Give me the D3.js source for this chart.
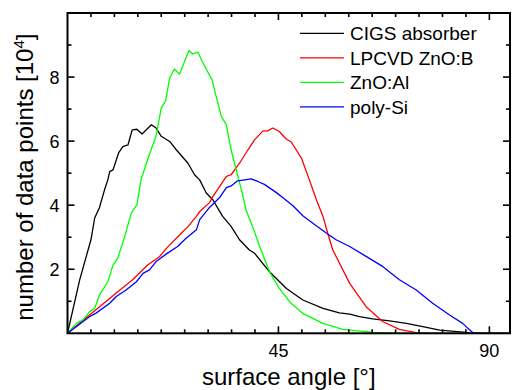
<!DOCTYPE html>
<html>
<head>
<meta charset="utf-8">
<script src="https://cdn.jsdelivr.net/npm/d3@7"></script>
<style>
  body { margin: 0; background: #fff; }
  svg { display: block; font-family: "Liberation Sans", Arial, sans-serif; }
</style>
</head>
<body>
<svg width="512" height="390"></svg>
<script>
// values: angle in degrees, counts in units of 10^4
const cigsAngle = [0, 2.6, 5.0, 5.8, 6.8, 7.9, 8.6, 9.0, 9.7, 10.9, 11.8, 12.9, 13.8, 14.8, 15.9, 17.9, 18.9, 20.0, 21.8, 23.2, 25.7, 27.1, 28.2, 29.6, 31.0, 33.1, 34.9, 36.7, 38.8, 39.9, 43.1, 46.7, 50.2, 54.5, 58.0, 60.2, 62.3, 65.1, 68.7, 72.3, 75.8, 79.4, 85.1, 86.4, 94.4];
const cigsCount = [0, 1.67, 2.92, 3.6, 3.92, 4.48, 4.79, 5.05, 5.1, 5.63, 5.83, 5.88, 6.35, 6.37, 6.22, 6.51, 6.41, 6.15, 5.99, 5.73, 5.31, 4.95, 4.79, 4.38, 4.17, 3.65, 3.34, 2.92, 2.6, 2.5, 1.92, 1.4, 1.04, 0.78, 0.64, 0.6, 0.52, 0.45, 0.39, 0.31, 0.21, 0.1, 0.03, 0, 0];

const lpcvdAngle = [0, 4.7, 9.0, 10.7, 13.9, 17.1, 19.6, 21.1, 23.9, 25.7, 27.5, 28.2, 30.3, 31.0, 33.9, 34.9, 36.7, 38.5, 39.9, 41.7, 42.7, 43.8, 45.2, 46.7, 47.7, 49.9, 51.6, 53.1, 54.5, 55.5, 56.6, 57.3, 60.2, 63.7, 67.3, 70.8, 74.4, 77.9, 94.4];
const lpcvdCount = [0, 0.57, 1.09, 1.3, 1.67, 2.13, 2.39, 2.65, 3.07, 3.33, 3.65, 3.8, 4.08, 4.27, 4.9, 4.95, 5.31, 5.73, 6.04, 6.32, 6.32, 6.41, 6.3, 6.06, 5.98, 5.47, 4.79, 4.17, 3.65, 3.13, 2.6, 2.4, 1.56, 0.83, 0.36, 0.12, 0.02, 0, 0];

const znoAngle = [0, 1.9, 3.3, 4.7, 5.8, 6.8, 8.6, 9.7, 10.7, 12.2, 13.6, 14.8, 15.7, 17.5, 18.9, 20.0, 20.9, 21.8, 22.8, 23.9, 25.9, 26.7, 27.8, 28.9, 30.8, 32.8, 33.9, 34.9, 36.0, 37.1, 38.1, 39.5, 41.0, 43.1, 45.2, 47.4, 50.2, 54.5, 58.7, 65.2, 72.1, 94.4];
const znoCount = [0, 0.31, 0.42, 0.67, 0.78, 1.19, 1.61, 2.13, 2.34, 3.02, 3.75, 4.01, 4.8, 5.6, 6.16, 7.04, 7.25, 7.97, 8.25, 8.09, 8.83, 8.72, 8.78, 8.44, 7.92, 6.77, 6.51, 5.73, 5.1, 4.48, 3.85, 3.33, 2.71, 1.92, 1.4, 0.98, 0.62, 0.31, 0.125, 0.03, 0, 0];

const polyAngle = [0, 4.7, 6.1, 9.0, 10.4, 12.5, 14.7, 16.1, 17.5, 18.9, 21.1, 23.5, 25.3, 27.5, 28.2, 30.3, 32.4, 33.9, 34.9, 36.3, 37.8, 39.2, 40.6, 42.0, 44.5, 46.3, 48.1, 50.2, 52.7, 55.2, 57.3, 60.2, 63.7, 67.3, 70.8, 74.4, 77.9, 81.5, 84.3, 85.1, 86.5, 88.6, 94.4];
const polyCount = [0, 0.52, 0.63, 0.94, 1.15, 1.35, 1.61, 1.87, 1.98, 2.24, 2.48, 2.71, 2.97, 3.23, 3.55, 3.93, 4.23, 4.55, 4.6, 4.76, 4.79, 4.82, 4.74, 4.65, 4.4, 4.19, 3.98, 3.67, 3.4, 3.13, 2.92, 2.71, 2.4, 2.08, 1.67, 1.35, 0.94, 0.57, 0.31, 0.2, 0.02, 0, 0];

const seriesNames = ["CIGS absorber", "LPCVD ZnO:B", "ZnO:Al", "poly-Si"];
const seriesColors = ["#000000", "#ff0000", "#00ff00", "#0000ff"];
const xTickLabels = [45, 90];
const yTickLabels = [2, 4, 6, 8];

const series = [
  { name: seriesNames[0], color: seriesColors[0], pts: d3.zip(cigsAngle, cigsCount) },
  { name: seriesNames[1], color: seriesColors[1], pts: d3.zip(lpcvdAngle, lpcvdCount) },
  { name: seriesNames[2], color: seriesColors[2], pts: d3.zip(znoAngle, znoCount) },
  { name: seriesNames[3], color: seriesColors[3], pts: d3.zip(polyAngle, polyCount) }
];

const plotL = 67.5, plotR = 510, plotT = 13, plotB = 333.3;
const x = d3.scaleLinear().domain([0, 94.4]).range([plotL, plotR]);
const y = d3.scaleLinear().domain([0, 10]).range([plotB, plotT]);

const svg = d3.select("svg");

svg.append("clipPath").attr("id", "plot")
  .append("rect")
  .attr("x", plotL).attr("y", plotT)
  .attr("width", plotR - plotL).attr("height", plotB - plotT);

const line = d3.line()
  .x(d => x(d[0]))
  .y(d => y(d[1]));

svg.append("g")
  .attr("clip-path", "url(#plot)")
  .selectAll("path")
  .data(series)
  .enter()
  .append("path")
  .attr("d", d => line(d.pts))
  .attr("fill", "none")
  .attr("stroke", d => d.color)
  .attr("stroke-width", 1.3)
  .attr("stroke-linejoin", "round");

// ticks on all four sides, pointing inward
const xMinor = d3.range(5, 94, 5);
const yMinor = d3.range(1, 10, 1);
const tickLen = (major) => major ? 7 : 4;

const ticks = svg.append("g").attr("stroke", "#000").attr("stroke-width", 1.6);
xMinor.forEach(v => {
  const len = tickLen(xTickLabels.includes(v));
  ticks.append("line").attr("x1", x(v)).attr("x2", x(v)).attr("y1", plotB).attr("y2", plotB - len);
  ticks.append("line").attr("x1", x(v)).attr("x2", x(v)).attr("y1", plotT).attr("y2", plotT + len);
});
yMinor.forEach(v => {
  const len = tickLen(yTickLabels.includes(v));
  ticks.append("line").attr("y1", y(v)).attr("y2", y(v)).attr("x1", plotL).attr("x2", plotL + len);
  ticks.append("line").attr("y1", y(v)).attr("y2", y(v)).attr("x1", plotR).attr("x2", plotR - len);
});

svg.append("rect")
  .attr("x", plotL).attr("y", plotT)
  .attr("width", plotR - plotL).attr("height", plotB - plotT)
  .attr("fill", "none")
  .attr("stroke", "#000")
  .attr("stroke-width", 2);

// tick labels
svg.append("g").selectAll("text")
  .data(xTickLabels)
  .enter().append("text")
  .attr("x", d => x(d))
  .attr("y", 356.5)
  .attr("text-anchor", "middle")
  .attr("font-size", 18)
  .text(d => d);

svg.append("g").selectAll("text")
  .data(yTickLabels)
  .enter().append("text")
  .attr("x", 59.5)
  .attr("y", d => y(d) + 6.5)
  .attr("text-anchor", "end")
  .attr("font-size", 18)
  .text(d => d);

// axis titles
svg.append("text")
  .attr("x", (plotL + plotR) / 2)
  .attr("y", 384.5)
  .attr("text-anchor", "middle")
  .attr("font-size", 24)
  .text("surface angle [°]");

const yTitle = svg.append("text")
  .attr("transform", `translate(33,${(plotT + plotB) / 2 + 4}) rotate(-90)`)
  .attr("text-anchor", "middle")
  .attr("font-size", 24);
yTitle.append("tspan").text("number of data points [10");
yTitle.append("tspan").attr("font-size", 15).attr("dy", -9).text("4");
yTitle.append("tspan").attr("dy", 9).text("]");

// legend
const legend = svg.append("g").selectAll("g")
  .data(series)
  .enter().append("g")
  .attr("transform", (d, i) => `translate(300,${33.3 + i * 24.5})`);
legend.append("line")
  .attr("x1", 0).attr("x2", 44)
  .attr("stroke", d => d.color)
  .attr("stroke-width", 1.3);
legend.append("text")
  .attr("x", 50)
  .attr("y", 7)
  .attr("font-size", 19)
  .text(d => d.name);
</script>
</body>
</html>
